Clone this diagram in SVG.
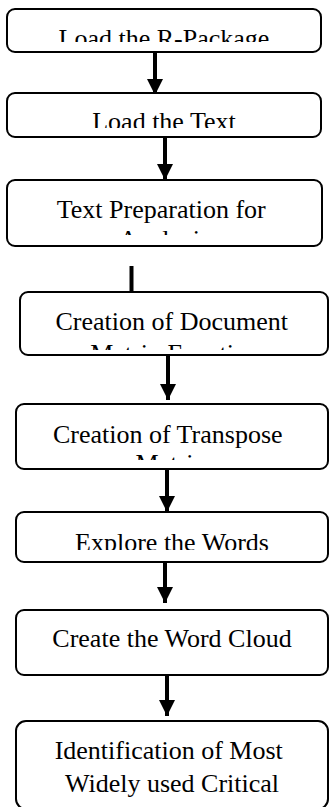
<svg xmlns="http://www.w3.org/2000/svg" width="329" height="807" viewBox="0 0 329 807">
  <style>
    .box { fill: #ffffff; stroke: #000000; stroke-width: 2; }
    .label { font-family: 'Liberation Serif', Tinos, 'Times New Roman', Times, 'DejaVu Serif', serif; font-size: 26px; fill: #000000; text-anchor: middle; }
    .edge { stroke: #000000; stroke-width: 4; fill: none; }
  </style>
  <defs>
    <marker id="head" markerUnits="userSpaceOnUse" markerWidth="16" markerHeight="16" refX="16" refY="8" orient="auto">
      <path d="M0,0 L16,8 L0,16 Z" fill="#000000"/>
    </marker>
    <!-- text areas: labels are cut off at these bounds -->
    <clipPath id="clip-n1"><rect x="7" y="9" width="314" height="33"/></clipPath>
    <clipPath id="clip-n2"><rect x="7" y="93" width="314" height="35"/></clipPath>
    <clipPath id="clip-n3"><rect x="7" y="180" width="315" height="55"/></clipPath>
    <clipPath id="clip-n4"><rect x="20" y="292" width="308" height="58"/></clipPath>
    <clipPath id="clip-n5"><rect x="16" y="404" width="312" height="56"/></clipPath>
    <clipPath id="clip-n6"><rect x="16" y="512" width="312" height="38"/></clipPath>
  </defs>

  <g id="connectors">
    <line class="edge" x1="155" y1="52" x2="155" y2="95" marker-end="url(#head)"/>
    <line class="edge" x1="165" y1="137" x2="165" y2="180" marker-end="url(#head)"/>
    <line class="edge" x1="131.5" y1="266" x2="131.5" y2="292"/>
    <line class="edge" x1="168" y1="355" x2="168" y2="400" marker-end="url(#head)"/>
    <line class="edge" x1="167" y1="469" x2="167" y2="512" marker-end="url(#head)"/>
    <line class="edge" x1="165" y1="562" x2="165" y2="603" marker-end="url(#head)"/>
    <line class="edge" x1="167" y1="675" x2="167" y2="716" marker-end="url(#head)"/>
  </g>

  <g id="n1">
    <rect class="box" x="7" y="9" width="314" height="43" rx="8"/>
    <text class="label" x="164" y="47" font-family="Liberation Serif, serif" clip-path="url(#clip-n1)">Load the R-Package</text>
  </g>
  <g id="n2">
    <rect class="box" x="7" y="93" width="314" height="44" rx="8"/>
    <text class="label" x="164" y="130" clip-path="url(#clip-n2)">Load the Text</text>
  </g>
  <g id="n3">
    <rect class="box" x="7" y="180" width="315" height="66" rx="8"/>
    <text class="label" clip-path="url(#clip-n3)">
      <tspan x="164.5" y="218">Text Preparation for</tspan>
      <tspan x="164.5" y="248">Analysis</tspan>
    </text>
  </g>
  <g id="n4">
    <rect class="box" x="20" y="292" width="308" height="63" rx="8"/>
    <text class="label" clip-path="url(#clip-n4)">
      <tspan x="175" y="330">Creation of Document</tspan>
      <tspan x="175" y="362">Matrix Function</tspan>
    </text>
  </g>
  <g id="n5">
    <rect class="box" x="16" y="404" width="312" height="65" rx="8"/>
    <text class="label" clip-path="url(#clip-n5)">
      <tspan x="171" y="443">Creation of Transpose</tspan>
      <tspan x="171" y="472">Matrix</tspan>
    </text>
  </g>
  <g id="n6">
    <rect class="box" x="16" y="512" width="312" height="50" rx="8"/>
    <text class="label" x="172" y="551" clip-path="url(#clip-n6)">Explore the Words</text>
  </g>
  <g id="n7">
    <rect class="box" x="16" y="610" width="312" height="65" rx="8"/>
    <text class="label" x="172" y="647">Create the Word Cloud</text>
  </g>
  <g id="n8">
    <rect class="box" x="16" y="721" width="312" height="88" rx="10"/>
    <text class="label">
      <tspan x="172" y="759">Identification of Most</tspan>
      <tspan x="172" y="792">Widely used Critical</tspan>
    </text>
  </g>
</svg>
